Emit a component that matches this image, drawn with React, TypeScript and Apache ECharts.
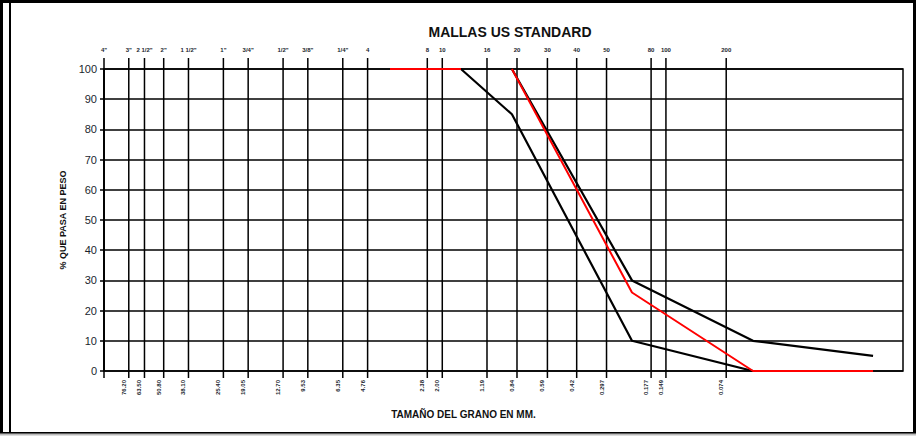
import React, { useEffect, useRef } from "react";
import * as echarts from "echarts";

// Sieve openings (mm) and their US Standard names
const sieveMm = [101.6, 76.2, 63.5, 50.8, 38.1, 25.4, 19.05, 12.7, 9.53, 6.35, 4.76, 2.38, 2.0, 1.19, 0.84, 0.59, 0.42, 0.297, 0.177, 0.149, 0.074];
const sieveNames = ['4"', '3"', '2 1/2"', '2"', '1 1/2"', '1"', '3/4"', '1/2"', '3/8"', '1/4"', "4", "8", "10", "16", "20", "30", "40", "50", "80", "100", "200"];
const sieveMmLabels = ["", "76.20", "63.50", "50.80", "38.10", "25.40", "19.05", "12.70", "9.53", "6.35", "4.76", "2.38", "2.00", "1.19", "0.84", "0.59", "0.42", "0.297", "0.177", "0.149", "0.074"];

// Curves (grain size mm, % passing)
const redTopX = [3.67, 1.61];
const redTopY = [100, 100];
const redX = [0.891, 0.221, 0.0542, 0.01345];
const redY = [100, 26, 0, 0];
const upperX = [0.891, 0.221, 0.0542, 0.01345];
const upperY = [100, 30, 10, 5];
const lowerX = [1.61, 0.891, 0.221, 0.0542, 0.01345];
const lowerY = [100, 85, 10, 0, 0];

const yTicks = [0, 10, 20, 30, 40, 50, 60, 70, 80, 90, 100];

const zip = (xs: number[], ys: number[]) => xs.map((x, i) => [x, ys[i]]);

export default function App() {
  const ref = useRef<HTMLDivElement>(null);
  useEffect(() => {
    if (!ref.current) return;
    const chart = echarts.init(ref.current, null, { renderer: "svg" });
    const option: any = {
      animation: false,
      backgroundColor: "#fff",
      textStyle: { fontFamily: "Liberation Sans, Arial, sans-serif" },
      title: {
        text: "MALLAS US STANDARD",
        left: 505,
        top: 20,
        textAlign: "center",
        textStyle: { fontSize: 14, fontWeight: "bold", color: "#111" },
      },
      grid: { left: 104, right: 13, top: 69, bottom: 65, show: true, borderColor: "#000", borderWidth: 1.5 },
      xAxis: {
        type: "log",
        logBase: 10,
        inverse: true,
        min: 0.0095,
        max: 101.6,
        axisLabel: { show: false },
        axisTick: { show: false },
        axisLine: { show: false },
        splitLine: { show: false },
        name: "TAMAÑO DEL GRANO EN MM.",
        nameLocation: "middle",
        nameGap: 38,
        nameTextStyle: { fontSize: 10, fontWeight: "bold", color: "#111", padding: [0, 80, 0, 0] },
      },
      yAxis: {
        type: "value",
        min: 0,
        max: 100,
        interval: 10,
        axisLine: { show: true, lineStyle: { color: "#000", width: 1.5 } },
        axisTick: { show: true, length: 4, lineStyle: { color: "#000", width: 1.5 } },
        axisLabel: { fontSize: 11, color: "#1a1f2e", margin: 7, formatter: (v: number) => (yTicks.includes(v) ? String(v) : "") },
        splitLine: { show: true, lineStyle: { color: "#000", width: 1.5 } },
        name: "% QUE PASA EN PESO",
        nameLocation: "middle",
        nameGap: 36,
        nameTextStyle: { fontSize: 9, fontWeight: "bold", color: "#111" },
      },
      graphic: [
        { type: "rect", shape: { x: 1.5, y: 1.5, width: 913, height: 432 }, style: { fill: "none", stroke: "#000", lineWidth: 3 }, z: 100 },
        { type: "line", shape: { x1: 10, y1: 3, x2: 10, y2: 434 }, style: { stroke: "#000", lineWidth: 2 }, z: 100 },
        { type: "line", shape: { x1: 0, y1: 434.5, x2: 916, y2: 434.5 }, style: { stroke: "#bbb", lineWidth: 2 }, z: 101 },
      ],
      series: [
        {
          type: "custom",
          clip: false,
          silent: true,
          encode: { x: 0, y: 1 },
          data: sieveMm.map((m, i) => [m, 50, i]),
          renderItem: (params: any, api: any) => {
            const mm = api.value(0);
            const idx = api.value(2);
            const top = api.coord([mm, 100]);
            const bot = api.coord([mm, 0]);
            const x = top[0];
            const children: any[] = [
              { type: "line", shape: { x1: x, y1: top[1] - 11, x2: x, y2: bot[1] + 7 }, style: { stroke: "#000", lineWidth: 1.5 } },
              { type: "text", x: x, y: top[1] - 19, style: { text: sieveNames[idx], fontSize: 6, fontWeight: "bold", fill: "#1a1f2e", align: "center", verticalAlign: "middle", fontFamily: "Liberation Sans, Arial, sans-serif" } },
            ];
            if (sieveMmLabels[idx]) {
              children.push({
                type: "text",
                x: x - 5,
                y: bot[1] + 9,
                rotation: Math.PI / 2,
                style: { text: sieveMmLabels[idx], fontSize: 6, fontWeight: "bold", fill: "#1a1f2e", align: "right", verticalAlign: "middle", fontFamily: "Liberation Sans, Arial, sans-serif" },
              });
            }
            return { type: "group", children };
          },
          z: 1,
        },
        { type: "line", data: zip(lowerX, lowerY), symbol: "none", lineStyle: { color: "#000", width: 2.2 }, z: 3 },
        { type: "line", data: zip(upperX, upperY), symbol: "none", lineStyle: { color: "#000", width: 2.2 }, z: 3 },
        { type: "line", data: zip(redTopX, redTopY), symbol: "none", lineStyle: { color: "#ff0000", width: 2 }, z: 4 },
        { type: "line", data: zip(redX, redY), symbol: "none", lineStyle: { color: "#ff0000", width: 2 }, z: 4 },
      ],
    };
    chart.setOption(option);
    return () => chart.dispose();
  }, []);
  return <div ref={ref} style={{ position: "fixed", left: 0, top: 0, width: 916, height: 436 }} />;
}
